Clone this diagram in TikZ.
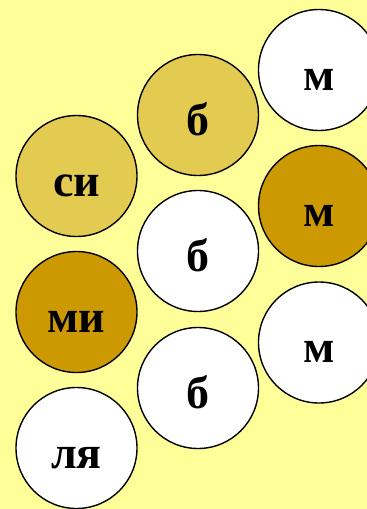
\documentclass[tikz,border=0pt]{standalone}
\usepackage{fontspec}
\setmainfont{Liberation Serif}
\definecolor{paper}{HTML}{FFFF99}
\definecolor{lightgold}{HTML}{E3CB52}
\definecolor{darkgold}{HTML}{CC9900}
\tikzset{
  syl/.style={circle, draw=black, line width=1.4pt, minimum size=121pt, inner sep=0pt,
    font=\fontsize{46}{46}\selectfont\bfseries, text height=40pt, text depth=0pt},
  plain/.style={syl, fill=white},
  light/.style={syl, fill=lightgold},
  dark/.style={syl, fill=darkgold}
}
\begin{document}
\begin{tikzpicture}[x=1pt,y=-1pt]
  \fill[paper] (0,0) rectangle (367,509);
  \useasboundingbox (0,0) rectangle (367,509);
  \clip (0,0) rectangle (367,509);
  % left column
  \node[light] (si) at (76.5,176) {си};
  \node[dark]  (mi) at (76.5,312) {ми};
  \node[plain] (lya) at (76.5,448) {ля};
  % middle column
  \node[light] (b1) at (198,115) {б};
  \node[plain] (b2) at (198,251) {б};
  \node[plain] (b3) at (198,388) {б};
  % right column
  \node[plain] (m1) at (319,70) {м};
  \node[dark]  (m2) at (319,206) {м};
  \node[plain] (m3) at (319,342.5) {м};
\end{tikzpicture}
\end{document}
